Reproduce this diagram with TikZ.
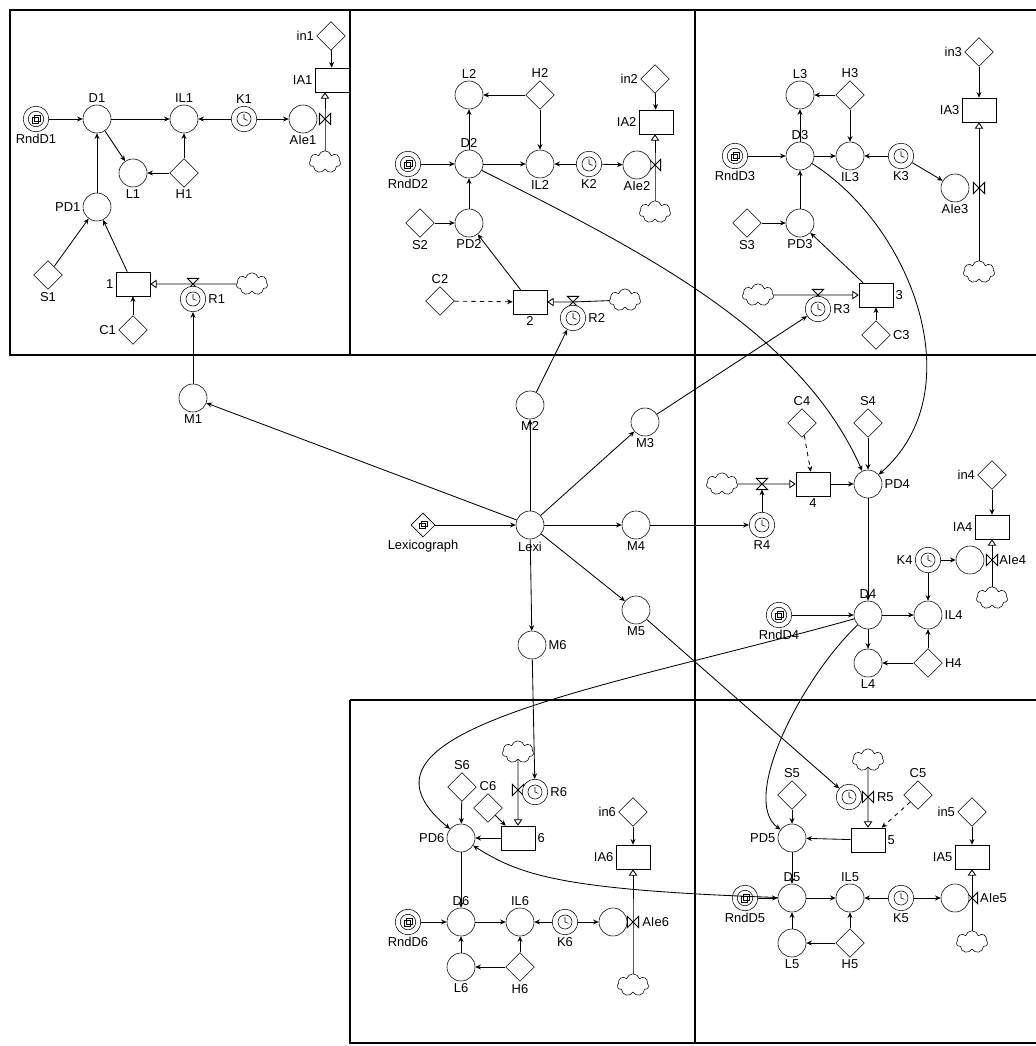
\documentclass[tikz,border=0pt]{standalone}
\usepackage{fontspec}
\setsansfont{Liberation Sans}
\usetikzlibrary{shapes.geometric,shapes.symbols,arrows.meta}

\newcommand{\lbl}{\sffamily\fontsize{9.2}{11}\selectfont}

\tikzset{
  aux/.style   = {circle, draw, fill=white, minimum size=0.7cm, inner sep=0pt},
  stock/.style = {rectangle, draw, fill=white, minimum width=0.85cm,
                  minimum height=0.6cm, inner sep=0pt},
  const/.style = {diamond, draw, fill=white, minimum size=0.72cm, inner sep=0pt},
  clock/.style = {circle, draw, fill=white, minimum size=0.64cm, inner sep=0pt,
    path picture={
      \draw (path picture bounding box.center) circle (5pt);
      \draw (path picture bounding box.center) -- ++(0pt,3.5pt)
            (path picture bounding box.center) -- ++(2.5pt,-1pt);}},
  rnd/.style   = {circle, draw, fill=white, minimum size=0.64cm, inner sep=0pt,
    path picture={
      \draw (path picture bounding box.center) circle (5.5pt);
      \draw ([shift={(-3pt,-3pt)}]path picture bounding box.center) rectangle ++(4.5pt,4.5pt);
      \draw ([shift={(-1.5pt,-1.5pt)}]path picture bounding box.center) rectangle ++(4.5pt,4.5pt);}},
  lexg/.style  = {diamond, draw, fill=white, minimum size=0.6cm, inner sep=0pt,
    path picture={
      \draw ([shift={(-2.5pt,-2.5pt)}]path picture bounding box.center) rectangle ++(4pt,4pt);
      \draw ([shift={(-1pt,-1pt)}]path picture bounding box.center) rectangle ++(4pt,4pt);}},
  sink/.style  = {cloud, draw, fill=white, cloud puffs=7, aspect=1.4,
                  minimum width=0.78cm, minimum height=0.56cm, inner sep=0pt},
  link/.style  = {semithick, -{Stealth[length=4pt,width=3.5pt]}},
  flow/.style  = {semithick, -{Triangle[open,length=4.5pt,width=6pt]}},
  panel/.style = {line width=1.1pt},
  every label/.style = {font=\lbl, inner sep=1.5pt}
}

% valve on a horizontal flow
\newcommand{\valveh}[2]{%
  \coordinate (#1) at (#2);
  \draw[semithick, fill=white] ([shift={(-4pt,4pt)}]#1) -- ++(8pt,0pt) -- ++(-8pt,-8pt) -- ++(8pt,0pt) -- cycle;}
% valve on a vertical flow
\newcommand{\valvev}[2]{%
  \coordinate (#1) at (#2);
  \draw[semithick, fill=white] ([shift={(-4pt,4pt)}]#1) -- ++(0pt,-8pt) -- ++(8pt,8pt) -- ++(0pt,-8pt) -- cycle;}

\begin{document}
\begin{tikzpicture}[x=0.025cm, y=-0.025cm]
	\useasboundingbox (0,0) rectangle (1036,1046);

	% Panels
	\draw[panel] (10,10) rectangle (350,355);
	\draw[panel] (350,10) -- (1036,10);
	\draw[panel] (695,10) -- (695,1043);
	\draw[panel] (350,355) -- (1036,355);
	\draw[panel] (350,700) -- (1036,700);
	\draw[panel] (350,700) -- (350,1043) -- (1036,1043);

	% Valves
	\valvev{vA1}{325,119}   \valveh{v1}{193,284}
	\valvev{vA2}{655,165}   \valveh{v2}{573,302}
	\valvev{vA3}{979,188}   \valveh{v3}{818,295}
	\valvev{vA4}{992,560}   \valveh{v4}{762,484}
	\valvev{vA5}{972,898}   \valvev{vR5}{868,797}
	\valvev{vA6}{633,922}   \valvev{vR6}{518,790}

	% Sector 1
	\node[rnd, label=below:RndD1] (RndD1) at (36,119) {};
	\node[aux, label=above:D1] (D1) at (97,119) {};
	\node[aux, label=above:IL1] (IL1) at (184,119) {};
	\node[clock, label=above:K1] (K1) at (244,119) {};
	\node[aux, label=below:AIe1] (AIe1) at (303,119) {};
	\node[stock, label=left:IA1] (IA1) at (332,80) {};
	\node[const, label=left:in1] (in1) at (331,36) {};
	\node[sink] (cl1a) at (325,162) {};
	\node[aux, label=below:L1] (L1) at (133,173) {};
	\node[const, label=below:H1] (H1) at (184,173) {};
	\node[aux, label=left:PD1] (PD1) at (97,207) {};
	\node[const, label=below:S1] (S1) at (48,275) {};
	\node[stock, label=left:1] (st1) at (133,284) {};
	\node[const, label=left:C1] (C1) at (133,330) {};
	\node[clock, label=right:R1] (R1) at (193,299) {};
	\node[sink] (cl1b) at (252,284) {};

	% Sector 2
	\node[aux, label=above:L2] (L2) at (469,95) {};
	\node[const, label=above:H2] (H2) at (540,95) {};
	\node[const, label=left:in2] (in2) at (655,79) {};
	\node[stock, label=left:IA2] (IA2) at (656,122) {};
	\node[rnd, label=below:RndD2] (RndD2) at (408,164) {};
	\node[aux, label=above:D2] (D2) at (469,164) {};
	\node[aux, label=below:IL2] (IL2) at (540,164) {};
	\node[clock, label=below:K2] (K2) at (589,164) {};
	\node[aux, label=below:AIe2] (AIe2) at (637,165) {};
	\node[sink] (cl2a) at (655,212) {};
	\node[aux, label=below:PD2] (PD2) at (469,223) {};
	\node[const, label=below:S2] (S2) at (420,223) {};
	\node[const, label=above:C2] (C2) at (440,301) {};
	\node[stock, label=below:2] (st2) at (530,302) {};
	\node[clock, label=right:R2] (R2) at (573,318) {};
	\node[sink] (cl2b) at (625,300) {};

	% Sector 3
	\node[aux, label=above:L3] (L3) at (800,95) {};
	\node[const, label=above:H3] (H3) at (850,95) {};
	\node[const, label=left:in3] (in3) at (979,52) {};
	\node[stock, label=left:IA3] (IA3) at (979,110) {};
	\node[rnd, label=below:RndD3] (RndD3) at (735,156) {};
	\node[aux, label=above:D3] (D3) at (800,156) {};
	\node[aux, label=below:IL3] (IL3) at (850,156) {};
	\node[clock, label=below:K3] (K3) at (901,156) {};
	\node[aux, label=below:AIe3] (AIe3) at (955,188) {};
	\node[sink] (cl3a) at (979,272) {};
	\node[aux, label=below:PD3] (PD3) at (800,223) {};
	\node[const, label=below:S3] (S3) at (747,223) {};
	\node[stock, label=right:3] (st3) at (876,295) {};
	\node[const, label=right:C3] (C3) at (876,335) {};
	\node[clock, label=right:R3] (R3) at (818,309) {};
	\node[sink] (cl3b) at (758,295) {};

	% Lexicograph and its outputs
	\node[aux, label=below:M1] (M1) at (193,398) {};
	\node[aux, label=below:M2] (M2) at (530,405) {};
	\node[aux, label=below:M3] (M3) at (645,422) {};
	\node[lexg, label=below:Lexicograph] (lexg) at (423,525) {};
	\node[aux, label=below:Lexi] (Lexi) at (530,525) {};
	\node[aux, label=below:M4] (M4) at (636,525) {};
	\node[aux, label=below:M5] (M5) at (636,610) {};
	\node[aux, label=right:M6] (M6) at (532,645) {};

	% Sector 4
	\node[const, label=above:C4] (C4) at (802,423) {};
	\node[const, label=above:S4] (S4) at (868,423) {};
	\node[sink] (cl4a) at (722,484) {};
	\node[stock, label=below:4] (st4) at (813,484) {};
	\node[clock, label=below:R4] (R4) at (762,525) {};
	\node[aux, label=right:PD4] (PD4) at (868,484) {};
	\node[const, label=left:in4] (in4) at (992,475) {};
	\node[stock, label=left:IA4] (IA4) at (992,527) {};
	\node[clock, label=left:K4] (K4) at (928,560) {};
	\node[aux, label={[xshift=9pt]right:AIe4}] (AIe4) at (970,560) {};
	\node[sink] (cl4b) at (992,598) {};
	\node[aux, label=above:D4] (D4) at (868,615) {};
	\node[rnd, label=below:RndD4] (RndD4) at (779,615) {};
	\node[aux, label=right:IL4] (IL4) at (928,615) {};
	\node[aux, label=below:L4] (L4) at (868,663) {};
	\node[const, label=right:H4] (H4) at (928,663) {};

	% Sector 5
	\node[const, label=above:S5] (S5) at (792,795) {};
	\node[sink] (cl5a) at (868,760) {};
	\node[clock, label={[xshift=9pt]right:R5}] (R5) at (849,797) {};
	\node[const, label=above:C5] (C5) at (918,795) {};
	\node[const, label=left:in5] (in5) at (972,812) {};
	\node[aux, label=left:PD5] (PD5) at (792,838) {};
	\node[stock, label=right:5] (st5) at (868,840) {};
	\node[stock, label=left:IA5] (IA5) at (972,857) {};
	\node[aux, label=above:D5] (D5) at (792,898) {};
	\node[rnd, label=below:RndD5] (RndD5) at (745,898) {};
	\node[aux, label=above:IL5] (IL5) at (850,898) {};
	\node[clock, label=below:K5] (K5) at (901,898) {};
	\node[aux, label={[xshift=6pt]right:AIe5}] (AIe5) at (955,898) {};
	\node[sink] (cl5b) at (972,942) {};
	\node[aux, label=below:L5] (L5) at (792,943) {};
	\node[const, label=below:H5] (H5) at (850,943) {};

	% Sector 6
	\node[const, label=above:S6] (S6) at (462,787) {};
	\node[const, label=above:C6] (C6) at (488,808) {};
	\node[sink] (cl6a) at (518,752) {};
	\node[clock, label=right:R6] (R6) at (535,792) {};
	\node[stock, label=right:6] (st6) at (518,838) {};
	\node[aux, label=left:PD6] (PD6) at (461,838) {};
	\node[const, label=left:in6] (in6) at (633,812) {};
	\node[stock, label=left:IA6] (IA6) at (633,857) {};
	\node[aux, label=above:D6] (D6) at (461,922) {};
	\node[rnd, label=below:RndD6] (RndD6) at (408,922) {};
	\node[aux, label=above:IL6] (IL6) at (520,922) {};
	\node[clock, label=below:K6] (K6) at (565,922) {};
	\node[aux, label={[xshift=9pt]right:AIe6}] (AIe6) at (613,922) {};
	\node[sink] (cl6b) at (633,985) {};
	\node[aux, label=below:L6] (L6) at (461,967) {};
	\node[const, label=below:H6] (H6) at (520,967) {};

	% Flows
	\draw[flow] (cl1b) -- (v1) -- (st1);
	\draw[flow] (cl1a) -- (vA1) -- (vA1 |- IA1.south);
	\draw[flow] (cl2b) -- (v2) -- (st2);
	\draw[flow] (cl2a) -- (vA2) -- (vA2 |- IA2.south);
	\draw[flow] (cl3b) -- (v3) -- (st3);
	\draw[flow] (cl3a) -- (vA3) -- (vA3 |- IA3.south);
	\draw[flow] (cl4a) -- (v4) -- (st4);
	\draw[flow] (cl4b) -- (vA4) -- (vA4 |- IA4.south);
	\draw[flow] (cl5a) -- (vR5) -- (st5);
	\draw[flow] (cl5b) -- (vA5) -- (vA5 |- IA5.south);
	\draw[flow] (cl6a) -- (vR6) -- (st6);
	\draw[flow] (cl6b) -- (vA6) -- (vA6 |- IA6.south);

	% Links, sector 1
	\draw[link] (RndD1) -- (D1);
	\draw[link] (D1) -- (IL1);
	\draw[link] (K1) -- (IL1);
	\draw[link] (K1) -- (AIe1);
	\draw[link] (H1) -- (IL1);
	\draw[link] (D1) -- (L1);
	\draw[link] (H1) -- (L1);
	\draw[link] (PD1) -- (D1);
	\draw[link] (S1) -- (PD1);
	\draw[link] (st1) -- (PD1);
	\draw[link] (C1) -- (st1);
	\draw[link] (in1) -- (IA1);

	% Links, sector 2
	\draw[link] (H2) -- (L2);
	\draw[link] (H2) -- (IL2);
	\draw[link] (D2) -- (L2);
	\draw[link] (RndD2) -- (D2);
	\draw[link] (D2) -- (IL2);
	\draw[link] (K2) -- (IL2);
	\draw[link] (K2) -- (AIe2);
	\draw[link] (PD2) -- (D2);
	\draw[link] (S2) -- (PD2);
	\draw[link] (st2) -- (PD2);
	\draw[link, dashed] (C2) -- (st2);
	\draw[link] (in2) -- (IA2);

	% Links, sector 3
	\draw[link] (H3) -- (L3);
	\draw[link] (H3) -- (IL3);
	\draw[link] (D3) -- (L3);
	\draw[link] (RndD3) -- (D3);
	\draw[link] (D3) -- (IL3);
	\draw[link] (K3) -- (IL3);
	\draw[link] (K3) -- (AIe3);
	\draw[link] (PD3) -- (D3);
	\draw[link] (S3) -- (PD3);
	\draw[link] (st3) -- (PD3);
	\draw[link] (C3) -- (st3);
	\draw[link] (in3) -- (IA3);

	% Links, Lexi
	\draw[link] (lexg) -- (Lexi);
	\draw[link] (Lexi) -- (M1);
	\draw[link] (Lexi) -- (M2);
	\draw[link] (Lexi) -- (M3);
	\draw[link] (Lexi) -- (M4);
	\draw[link] (Lexi) -- (M5);
	\draw[link] (Lexi) -- (M6);
	\draw[link] (M1) -- (R1);
	\draw[link] (M2) -- (R2);
	\draw[link] (M3) -- (R3);
	\draw[link] (M4) -- (R4);
	\draw[link] (M5) -- (R5);
	\draw[link] (M6) -- (R6);

	% Links, sector 4
	\draw[link, dashed] (C4) -- (st4);
	\draw[link] (S4) -- (PD4);
	\draw[link] (st4) -- (PD4);
	\draw[link] (R4) -- ([yshift=-4pt]v4);
	\draw[link] (PD4) -- (D4);
	\draw[link] (RndD4) -- (D4);
	\draw[link] (D4) -- (IL4);
	\draw[link] (K4) -- (IL4);
	\draw[link] (K4) -- (AIe4);
	\draw[link] (H4) -- (IL4);
	\draw[link] (H4) -- (L4);
	\draw[link] (D4) -- (L4);
	\draw[link] (in4) -- (IA4);

	% Links, sector 5
	\draw[link] (S5) -- (PD5);
	\draw[link] (st5) -- (PD5);
	\draw[link, dashed] (C5) -- (st5);
	\draw[link] (PD5) -- (D5);
	\draw[link] (RndD5) -- (D5);
	\draw[link] (D5) -- (IL5);
	\draw[link] (K5) -- (IL5);
	\draw[link] (K5) -- (AIe5);
	\draw[link] (H5) -- (IL5);
	\draw[link] (H5) -- (L5);
	\draw[link] (L5) -- (D5);
	\draw[link] (in5) -- (IA5);

	% Links, sector 6
	\draw[link] (S6) -- (PD6);
	\draw[link] (C6) -- (st6);
	\draw[link] (st6) -- (PD6);
	\draw[link] (PD6) -- (D6);
	\draw[link] (RndD6) -- (D6);
	\draw[link] (D6) -- (IL6);
	\draw[link] (K6) -- (IL6);
	\draw[link] (K6) -- (AIe6);
	\draw[link] (H6) -- (IL6);
	\draw[link] (H6) -- (L6);
	\draw[link] (L6) -- (D6);
	\draw[link] (in6) -- (IA6);

	% Links across sectors
	\draw[link] (D2) .. controls (640,250) and (800,330) .. (PD4);
	\draw[link] (D3) .. controls (910,225) and (975,390) .. (PD4);
	\draw[link] (D4) .. controls (600,690) and (330,730) .. (PD6);
	\draw[link] (D4) .. controls (800,680) and (740,800) .. (PD5);
	\draw[link] (D5) .. controls (560,890) and (520,875) .. (PD6);
\end{tikzpicture}
\end{document}
